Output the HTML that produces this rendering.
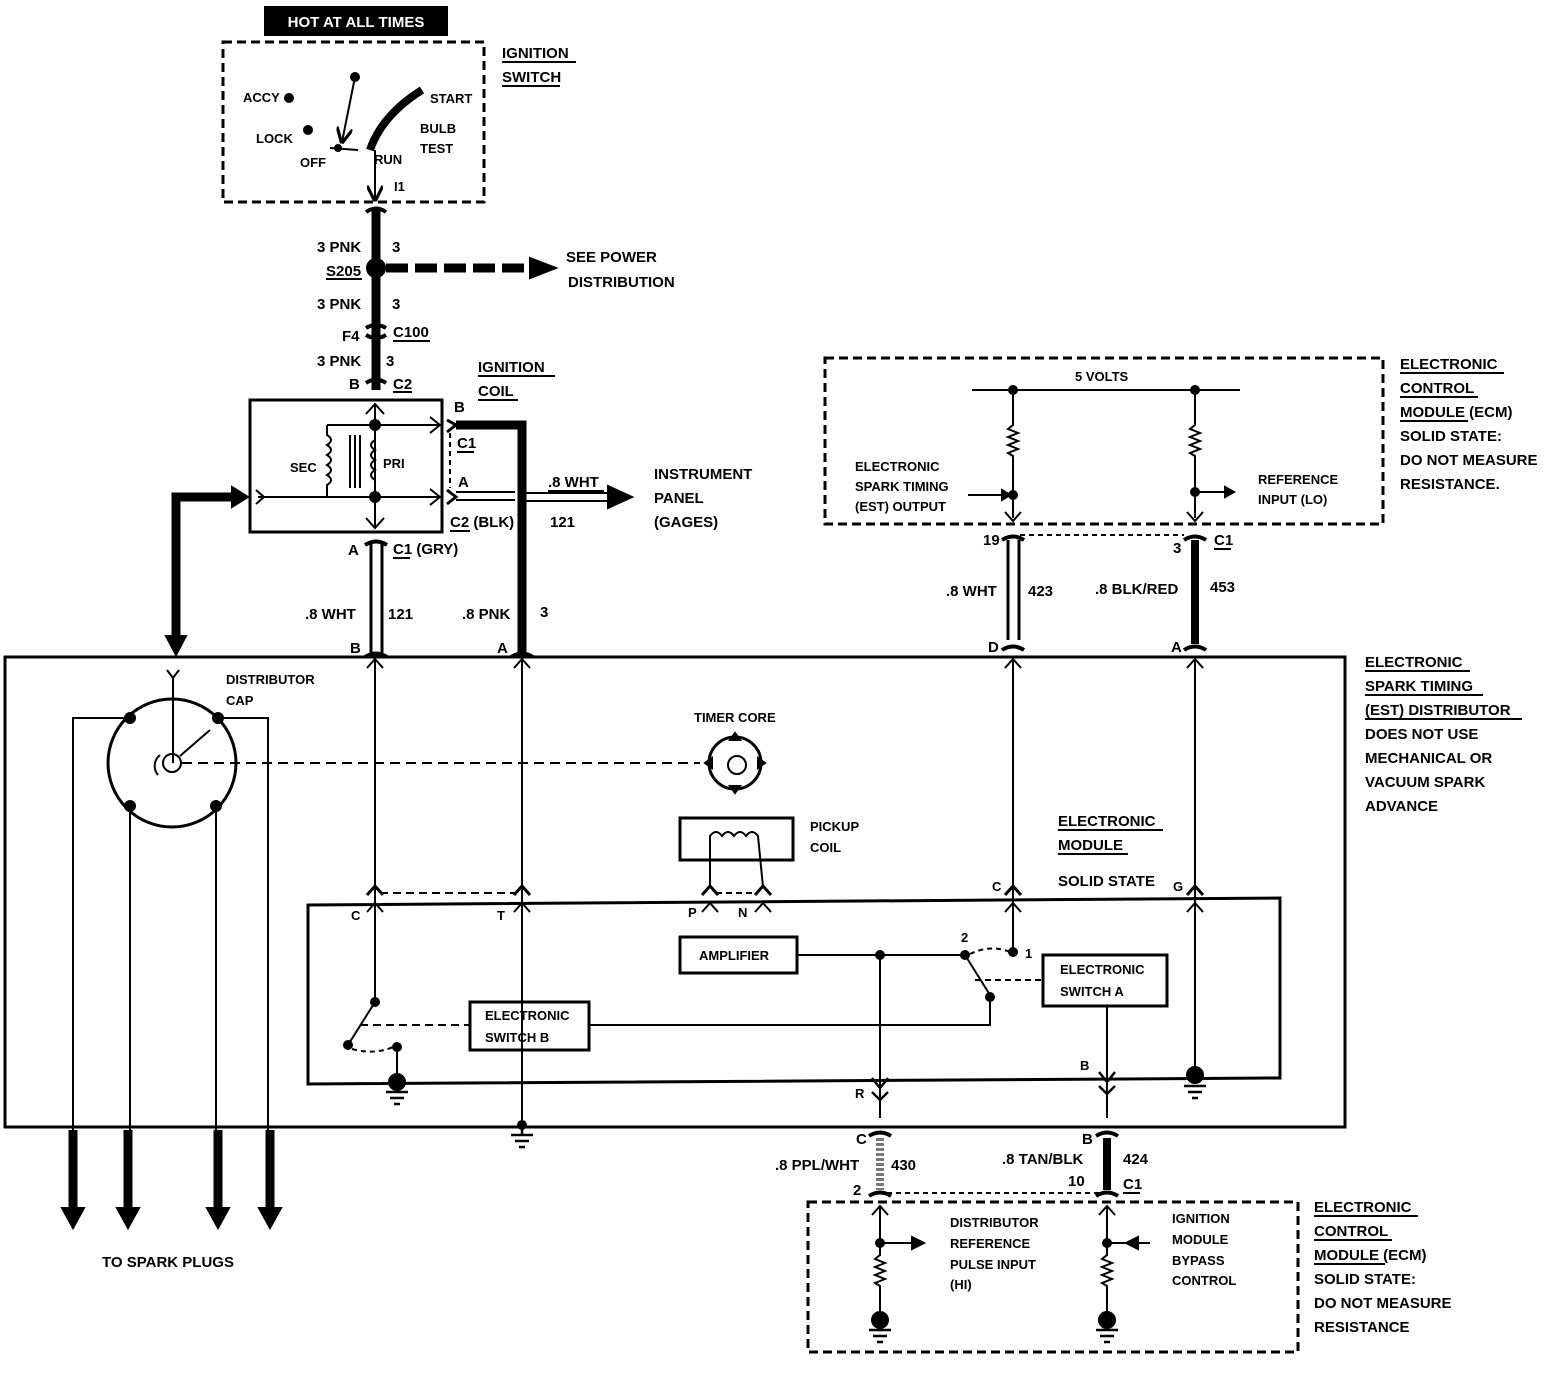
<!DOCTYPE html>
<html><head><meta charset="utf-8"><style>
html,body{margin:0;padding:0;background:#fff}
svg{display:block}
text{font-family:"Liberation Sans",sans-serif;font-weight:bold;font-size:15px;fill:#000}
.s{font-size:13px}
</style></head><body>
<svg width="1544" height="1376" viewBox="0 0 1544 1376" xmlns="http://www.w3.org/2000/svg" stroke="#000" fill="none" stroke-width="2">
<defs>
<marker id="ah" viewBox="0 0 10 10" refX="9" refY="5" markerWidth="8" markerHeight="8" orient="auto-start-reverse"><path d="M0,0 L10,5 L0,10" fill="none" stroke="#000" stroke-width="2"/></marker>
</defs>
<!-- header -->
<rect x="265" y="7" width="182" height="28" fill="#000"/>
<text x="356" y="27" text-anchor="middle" style="fill:#fff" stroke="none">HOT AT ALL TIMES</text>
<!-- ignition switch -->
<rect x="223" y="42" width="261" height="160" stroke-width="3" stroke-dasharray="9,5"/>
<g stroke="none">
<text x="502" y="58">IGNITION</text><text x="502" y="82">SWITCH</text>
<text x="243" y="102" class="s">ACCY</text><text x="256" y="143" class="s">LOCK</text>
<text x="300" y="167" class="s">OFF</text><text x="430" y="103" class="s">START</text>
<text x="420" y="133" class="s">BULB</text><text x="420" y="153" class="s">TEST</text>
<text x="374" y="164" class="s">RUN</text><text x="394" y="191" class="s">I1</text>
</g>
<line x1="502" y1="62" x2="576" y2="62"/><line x1="502" y1="86" x2="560" y2="86"/>
<circle cx="355" cy="77" r="4" fill="#000"/>
<line x1="355" y1="77" x2="342" y2="142" marker-end="url(#ah)"/>
<circle cx="289" cy="98" r="4" fill="#000"/><circle cx="308" cy="130" r="4" fill="#000"/>
<line x1="330" y1="148" x2="358" y2="150"/><circle cx="338" cy="148" r="3" fill="#000"/>
<path d="M370,150 Q382,115 422,90" stroke-width="8"/>
<line x1="375" y1="150" x2="375" y2="200" marker-end="url(#ah)"/>
<!-- main feed -->
<line x1="376" y1="210" x2="376" y2="390" stroke-width="9"/>
<path d="M366,212 Q376,205 386,212 M366,328 Q376,322 386,328 M366,335 Q376,341 386,335 M366,383 Q376,376 386,383" stroke-width="4" fill="none"/>
<circle cx="376" cy="268" r="9" fill="#000"/>
<line x1="386" y1="268" x2="530" y2="268" stroke-width="9" stroke-dasharray="22,7"/>
<path d="M530,258 L556,268 L530,278 Z" fill="#000"/>
<g stroke="none">
<text x="317" y="252">3 PNK</text><text x="392" y="252">3</text>
<text x="326" y="276">S205</text>
<text x="317" y="309">3 PNK</text><text x="392" y="309">3</text>
<text x="342" y="341">F4</text><text x="393" y="337">C100</text>
<text x="317" y="366">3 PNK</text><text x="386" y="366">3</text>
<text x="349" y="389">B</text><text x="393" y="389">C2</text>
<text x="566" y="262">SEE POWER</text><text x="568" y="287">DISTRIBUTION</text>
<text x="478" y="372">IGNITION</text><text x="478" y="396">COIL</text>
</g>
<line x1="326" y1="279" x2="362" y2="279"/><line x1="393" y1="341" x2="430" y2="341"/><line x1="393" y1="392" x2="412" y2="392"/>
<line x1="478" y1="376" x2="555" y2="376"/><line x1="478" y1="400" x2="518" y2="400"/>
<!-- coil -->
<rect x="250" y="400" width="192" height="132" stroke-width="3"/>
<line x1="375" y1="404" x2="375" y2="528"/>
<path d="M366,414 L375,404 L384,414 M366,518 L375,528 L384,518"/>
<line x1="327" y1="425" x2="440" y2="425"/><path d="M430,417 L440,425 L430,433"/>
<line x1="258" y1="497" x2="440" y2="497"/><path d="M430,489 L440,497 L430,505"/>
<path d="M256,490 L264,497 L256,504"/>
<path d="M327,425 L327,435 q8,5 0,10 q8,5 0,10 q8,5 0,10 q8,5 0,10 q8,5 0,10 L327,497"/>
<path d="M375,425 L375,440 q-8,5 0,10 q-8,5 0,10 q-8,5 0,10 q-8,5 0,10 L375,497"/>
<line x1="350" y1="435" x2="350" y2="488"/><line x1="355" y1="435" x2="355" y2="488"/><line x1="360" y1="435" x2="360" y2="488"/>
<circle cx="375" cy="425" r="5" fill="#000"/><circle cx="375" cy="497" r="5" fill="#000"/>
<g stroke="none"><text x="290" y="472" class="s">SEC</text><text x="383" y="468" class="s">PRI</text>
<text x="454" y="412">B</text><text x="457" y="448">C1</text><text x="458" y="487">A</text><text x="450" y="527">C2 (BLK)</text>
<text x="548" y="487">.8 WHT</text><text x="550" y="527">121</text>
<text x="654" y="479">INSTRUMENT</text><text x="654" y="503">PANEL</text><text x="654" y="527">(GAGES)</text>
<text x="348" y="555">A</text><text x="393" y="554">C1 (GRY)</text>
<text x="305" y="619">.8 WHT</text><text x="388" y="619">121</text>
<text x="462" y="619">.8 PNK</text><text x="540" y="617">3</text>
<text x="350" y="653">B</text><text x="497" y="653">A</text></g>
<line x1="457" y1="452" x2="474" y2="452"/><line x1="450" y1="531" x2="470" y2="531"/><line x1="393" y1="558" x2="410" y2="558"/>
<line x1="548" y1="491" x2="604" y2="491"/>
<path d="M447,420 L456,425 L447,432 M447,490 L456,497 L447,504" stroke-width="3"/>
<line x1="450" y1="433" x2="450" y2="488" stroke-dasharray="5,4"/>
<path d="M456,425 L522,425 L522,652" stroke-width="9"/>
<line x1="456" y1="492" x2="515" y2="492"/><line x1="456" y1="500" x2="515" y2="500"/>
<line x1="520" y1="493" x2="610" y2="493"/><line x1="520" y1="501" x2="610" y2="501"/>
<path d="M608,486 L632,497 L608,508 Z" fill="#000"/>
<path d="M365,545 Q376,538 387,545" stroke-width="4"/>
<line x1="371" y1="544" x2="371" y2="654" stroke-width="3"/><line x1="382" y1="544" x2="382" y2="654" stroke-width="3"/>
<path d="M365,657 Q376,650 387,657 M511,657 Q522,650 533,657" stroke-width="4"/>
<!-- thick distributor arrow -->
<path d="M176,640 L176,497 L236,497" stroke-width="9"/>
<path d="M232,487 L248,497 L232,507 Z M166,636 L176,655 L186,636 Z" fill="#000"/>
<!-- ECM top -->
<rect x="825" y="358" width="558" height="166" stroke-width="3" stroke-dasharray="9,5"/>
<line x1="972" y1="390" x2="1240" y2="390"/>
<g stroke="none"><text x="1075" y="381" class="s">5 VOLTS</text>
<text x="855" y="471" class="s">ELECTRONIC</text><text x="855" y="491" class="s">SPARK TIMING</text><text x="855" y="511" class="s">(EST) OUTPUT</text>
<text x="1258" y="484" class="s">REFERENCE</text><text x="1258" y="504" class="s">INPUT (LO)</text>
<text x="1400" y="369">ELECTRONIC</text><text x="1400" y="393">CONTROL</text><text x="1400" y="417">MODULE (ECM)</text>
<text x="1400" y="441">SOLID STATE:</text><text x="1400" y="465">DO NOT MEASURE</text><text x="1400" y="489">RESISTANCE.</text>
<text x="983" y="545">19</text><text x="1173" y="553">3</text><text x="1214" y="545">C1</text>
<text x="946" y="596">.8 WHT</text><text x="1028" y="596">423</text>
<text x="1095" y="594">.8 BLK/RED</text><text x="1210" y="592">453</text>
<text x="988" y="652">D</text><text x="1171" y="652">A</text></g>
<line x1="1400" y1="373" x2="1504" y2="373"/><line x1="1400" y1="397" x2="1478" y2="397"/><line x1="1400" y1="421" x2="1468" y2="421"/><line x1="1214" y1="549" x2="1231" y2="549"/>
<circle cx="1013" cy="390" r="4" fill="#000"/><circle cx="1195" cy="390" r="4" fill="#000"/>
<path d="M1013,390 L1013,425 l-5,4 l10,4 l-10,4 l10,4 l-10,4 l10,4 l-10,4 l5,3 L1013,518 M1195,390 L1195,425 l-5,4 l10,4 l-10,4 l10,4 l-10,4 l10,4 l-10,4 l5,3 L1195,518"/>
<circle cx="1013" cy="495" r="4" fill="#000"/><circle cx="1195" cy="492" r="4" fill="#000"/>
<line x1="968" y1="495" x2="1008" y2="495"/><path d="M1002,490 L1010,495 L1002,500 Z" fill="#000"/>
<line x1="1195" y1="492" x2="1230" y2="492"/><path d="M1225,487 L1234,492 L1225,497 Z" fill="#000"/>
<path d="M1005,512 L1013,521 L1021,512 M1187,512 L1195,521 L1203,512"/>
<path d="M1002,540 Q1013,533 1024,540 M1184,540 Q1195,533 1206,540" stroke-width="4"/>
<line x1="1020" y1="535" x2="1184" y2="535" stroke-dasharray="5,4"/>
<line x1="1008" y1="540" x2="1008" y2="640" stroke-width="3"/><line x1="1019" y1="540" x2="1019" y2="640" stroke-width="3"/>
<line x1="1195" y1="540" x2="1195" y2="644" stroke-width="8"/>
<path d="M1002,650 Q1013,643 1024,650 M1184,650 Q1195,643 1206,650" stroke-width="4"/>
<!-- distributor box -->
<rect x="5" y="657" width="1340" height="470" stroke-width="3"/>
<g stroke="none"><text x="1365" y="667">ELECTRONIC</text><text x="1365" y="691">SPARK TIMING</text><text x="1365" y="715">(EST) DISTRIBUTOR</text>
<text x="1365" y="739">DOES NOT USE</text><text x="1365" y="763">MECHANICAL OR</text><text x="1365" y="787">VACUUM SPARK</text><text x="1365" y="811">ADVANCE</text>
<text x="226" y="684" class="s">DISTRIBUTOR</text><text x="226" y="705" class="s">CAP</text>
<text x="694" y="722" class="s">TIMER CORE</text><text x="810" y="831" class="s">PICKUP</text><text x="810" y="852" class="s">COIL</text>
<text x="1058" y="826">ELECTRONIC</text><text x="1058" y="850">MODULE</text><text x="1058" y="886">SOLID STATE</text>
<text x="102" y="1267">TO SPARK PLUGS</text></g>
<line x1="1365" y1="671" x2="1470" y2="671"/><line x1="1365" y1="695" x2="1483" y2="695"/><line x1="1365" y1="719" x2="1522" y2="719"/>
<line x1="1058" y1="830" x2="1163" y2="830"/><line x1="1058" y1="854" x2="1128" y2="854"/>
<path d="M167,670 L173,678 L179,670 M173,678 L173,763"/>
<circle cx="172" cy="763" r="64" stroke-width="3"/>
<circle cx="172" cy="763" r="9"/>
<path d="M160,755 A14,14 0 0 0 158,775"/><line x1="180" y1="756" x2="210" y2="730"/>
<line x1="182" y1="763" x2="700" y2="763" stroke-dasharray="10,6"/>
<circle cx="130" cy="718" r="5" fill="#000"/><circle cx="218" cy="718" r="5" fill="#000"/>
<circle cx="130" cy="806" r="5" fill="#000"/><circle cx="216" cy="806" r="5" fill="#000"/>
<path d="M130,718 L73,718 L73,1200 M218,718 L268,718 L268,1200 M130,806 L130,1200 M216,806 L216,1200" stroke-width="2"/>
<path d="M73,1130 L73,1210 M128,1130 L128,1210 M218,1130 L218,1210 M270,1130 L270,1210" stroke-width="9"/>
<path d="M62,1208 L73,1228 L84,1208 Z M117,1208 L128,1228 L139,1208 Z M207,1208 L218,1228 L229,1208 Z M259,1208 L270,1228 L281,1208 Z" fill="#000"/>
<circle cx="735" cy="763" r="26" stroke-width="3"/><circle cx="737" cy="765" r="9"/>
<path d="M735,733 L730,740 L740,740 Z M735,793 L730,786 L740,786 Z M705,763 L712,758 L712,768 Z M765,763 L758,758 L758,768 Z" fill="#000"/>
<rect x="680" y="818" width="113" height="42" stroke-width="3"/>
<path d="M710,887 L710,836 q6,-8 12,0 q6,-8 12,0 q6,-8 12,0 q6,-8 12,0 L763,887"/>
<!-- verticals -->
<line x1="375" y1="657" x2="375" y2="1000"/><line x1="522" y1="657" x2="522" y2="1125"/>
<line x1="1013" y1="657" x2="1013" y2="955"/><line x1="1195" y1="657" x2="1195" y2="1075"/>
<path d="M367,668 L375,659 L383,668 M514,668 L522,659 L530,668 M1005,668 L1013,659 L1021,668 M1187,668 L1195,659 L1203,668"/>
<path d="M367,895 L375,886 L383,895 M514,895 L522,886 L530,895 M702,895 L710,886 L718,895 M755,895 L763,886 L771,895 M1005,895 L1013,886 L1021,895 M1187,895 L1195,886 L1203,895" stroke-width="3"/>
<path d="M367,912 L375,903 L383,912 M514,912 L522,903 L530,912 M702,912 L710,903 L718,912 M755,912 L763,903 L771,912 M1005,912 L1013,903 L1021,912 M1187,912 L1195,903 L1203,912" stroke-width="2"/>
<line x1="380" y1="893" x2="517" y2="893" stroke-dasharray="8,5"/><line x1="716" y1="893" x2="757" y2="893" stroke-dasharray="6,4"/>
<!-- module -->
<path d="M308,905 L1280,898 L1280,1078 L308,1084 Z" stroke-width="3"/>
<g stroke="none" class="s"><text x="351" y="920" class="s">C</text><text x="497" y="920" class="s">T</text>
<text x="688" y="917" class="s">P</text><text x="738" y="917" class="s">N</text>
<text x="992" y="891" class="s">C</text><text x="1173" y="891" class="s">G</text>
<text x="961" y="942" class="s">2</text><text x="1025" y="958" class="s">1</text>
<text x="699" y="960" class="s">AMPLIFIER</text>
<text x="1060" y="974" class="s">ELECTRONIC</text><text x="1060" y="996" class="s">SWITCH A</text>
<text x="485" y="1020" class="s">ELECTRONIC</text><text x="485" y="1042" class="s">SWITCH B</text>
<text x="1080" y="1070" class="s">B</text><text x="855" y="1098" class="s">R</text></g>
<rect x="680" y="937" width="117" height="36" stroke-width="3"/>
<rect x="1043" y="955" width="124" height="51" stroke-width="3"/>
<rect x="470" y="1002" width="119" height="48" stroke-width="3"/>
<line x1="797" y1="955" x2="965" y2="955"/>
<circle cx="880" cy="955" r="4" fill="#000"/><circle cx="965" cy="955" r="4" fill="#000"/><circle cx="1013" cy="952" r="4" fill="#000"/>
<path d="M970,954 Q990,944 1010,952" stroke-dasharray="5,4"/>
<line x1="965" y1="955" x2="990" y2="995"/><circle cx="990" cy="997" r="4" fill="#000"/>
<line x1="975" y1="980" x2="1043" y2="980" stroke-dasharray="6,4"/>
<path d="M990,997 L990,1025 L589,1025"/>
<line x1="880" y1="955" x2="880" y2="1118"/>
<path d="M872,1078 L880,1088 L888,1078 M872,1092 L880,1100 L888,1092" stroke-width="2.5"/>
<line x1="1107" y1="1006" x2="1107" y2="1118"/>
<path d="M1099,1072 L1107,1082 L1115,1072 M1099,1086 L1107,1094 L1115,1086" stroke-width="2.5"/>
<circle cx="375" cy="1002" r="4" fill="#000"/>
<line x1="375" y1="1002" x2="348" y2="1045"/><circle cx="348" cy="1045" r="4" fill="#000"/>
<circle cx="397" cy="1047" r="4" fill="#000"/>
<path d="M352,1049 Q375,1055 393,1047" stroke-dasharray="5,4"/>
<line x1="360" y1="1025" x2="470" y2="1025" stroke-dasharray="8,5"/>
<line x1="397" y1="1047" x2="397" y2="1082"/>
<!-- grounds -->
<g fill="#000">
<circle cx="397" cy="1082" r="8"/><circle cx="1195" cy="1075" r="8"/><circle cx="522" cy="1125" r="4"/>
</g>
<path d="M386,1092 L408,1092 M390,1098 L404,1098 M394,1104 L400,1104 M1184,1086 L1206,1086 M1188,1092 L1202,1092 M1192,1098 L1198,1098 M522,1125 L522,1135 M511,1135 L533,1135 M515,1141 L529,1141 M519,1147 L525,1147" stroke-width="2.5"/>
<!-- bottom wires -->
<path d="M869,1136 Q880,1129 891,1136 M1096,1136 Q1107,1129 1118,1136 M869,1196 Q880,1189 891,1196 M1096,1196 Q1107,1189 1118,1196" stroke-width="4"/>
<line x1="880" y1="1138" x2="880" y2="1190" stroke-width="8" stroke="#777" stroke-dasharray="3,2"/>
<line x1="1107" y1="1138" x2="1107" y2="1190" stroke-width="8"/>
<line x1="887" y1="1193" x2="1100" y2="1193" stroke-dasharray="5,4"/>
<g stroke="none"><text x="856" y="1144">C</text><text x="1082" y="1144">B</text>
<text x="775" y="1170">.8 PPL/WHT</text><text x="891" y="1170">430</text>
<text x="1002" y="1164">.8 TAN/BLK</text><text x="1123" y="1164">424</text>
<text x="853" y="1195">2</text><text x="1068" y="1186">10</text><text x="1123" y="1189">C1</text>
<text x="1314" y="1212">ELECTRONIC</text><text x="1314" y="1236">CONTROL</text><text x="1314" y="1260">MODULE (ECM)</text>
<text x="1314" y="1284">SOLID STATE:</text><text x="1314" y="1308">DO NOT MEASURE</text><text x="1314" y="1332">RESISTANCE</text>
<text x="950" y="1227" class="s">DISTRIBUTOR</text><text x="950" y="1248" class="s">REFERENCE</text><text x="950" y="1269" class="s">PULSE INPUT</text><text x="950" y="1289" class="s">(HI)</text>
<text x="1172" y="1223" class="s">IGNITION</text><text x="1172" y="1244" class="s">MODULE</text><text x="1172" y="1265" class="s">BYPASS</text><text x="1172" y="1285" class="s">CONTROL</text></g>
<line x1="1123" y1="1193" x2="1140" y2="1193"/>
<line x1="1314" y1="1216" x2="1418" y2="1216"/><line x1="1314" y1="1240" x2="1392" y2="1240"/><line x1="1314" y1="1264" x2="1385" y2="1264"/>
<rect x="808" y="1202" width="490" height="150" stroke-width="3" stroke-dasharray="9,5"/>
<path d="M872,1215 L880,1206 L888,1215 M1099,1215 L1107,1206 L1115,1215"/>
<path d="M880,1206 L880,1255 l-5,4 l10,4 l-10,4 l10,4 l-10,4 l10,4 l-10,4 l5,3 L880,1318 M1107,1206 L1107,1255 l-5,4 l10,4 l-10,4 l10,4 l-10,4 l10,4 l-10,4 l5,3 L1107,1318"/>
<circle cx="880" cy="1243" r="4" fill="#000"/><circle cx="1107" cy="1243" r="4" fill="#000"/>
<line x1="880" y1="1243" x2="915" y2="1243"/><path d="M912,1237 L924,1243 L912,1249 Z" fill="#000"/>
<line x1="1107" y1="1243" x2="1150" y2="1243"/><path d="M1138,1237 L1126,1243 L1138,1249 Z" fill="#000"/>
<circle cx="880" cy="1320" r="8" fill="#000"/><circle cx="1107" cy="1320" r="8" fill="#000"/>
<path d="M869,1330 L891,1330 M873,1336 L887,1336 M877,1342 L883,1342 M1096,1330 L1118,1330 M1100,1336 L1114,1336 M1104,1342 L1110,1342" stroke-width="2.5"/>
</svg>
</body></html>
